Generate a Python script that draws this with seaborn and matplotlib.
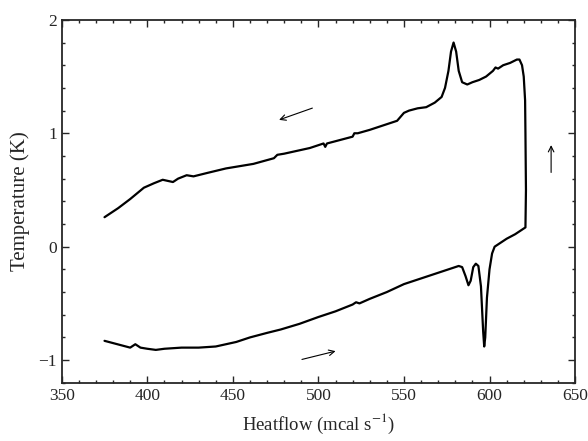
import numpy as np
import pandas as pd
import matplotlib
matplotlib.use("Agg")
import matplotlib.pyplot as plt
import seaborn as sns
from matplotlib.ticker import MultipleLocator

# heating branch (left to right)
lower_heatflow = [375, 380, 385, 390, 393, 396, 400, 405, 410, 420, 430, 440, 446, 452,
                  460, 470, 478, 489, 500, 510, 520, 522, 524, 530, 540, 550, 560, 570,
                  578, 582, 584, 586, 587.7, 589, 590.5, 592, 593.5, 595, 596.3, 596.9,
                  597.5, 598.5, 600, 601.5, 603, 605, 610, 615, 621]
lower_temp = [-0.83, -0.85, -0.87, -0.89, -0.86, -0.89, -0.90, -0.91, -0.90, -0.89, -0.89,
              -0.88, -0.86, -0.84, -0.80, -0.76, -0.73, -0.68, -0.62, -0.57, -0.51, -0.49,
              -0.50, -0.46, -0.40, -0.33, -0.28, -0.23, -0.19, -0.17, -0.18, -0.26, -0.34,
              -0.30, -0.18, -0.15, -0.17, -0.35, -0.75, -0.88, -0.80, -0.45, -0.20, -0.06,
              0.00, 0.02, 0.07, 0.11, 0.17]

# jump and cooling branch (right to left)
upper_heatflow = [621.3, 621, 620.8, 620, 619, 617.5, 616, 612, 608, 605, 603.5, 602, 598,
                  594, 590, 587, 584, 582, 580.5, 579, 577.5, 576, 574, 572, 568, 563, 558,
                  553, 550, 546, 540, 530, 523, 521, 520, 510, 505, 504, 503, 495, 489, 480,
                  476, 474, 462, 446, 435, 427, 423, 418, 415, 412, 409, 404, 398, 390, 383,
                  375]
upper_temp = [0.50, 1.00, 1.29, 1.50, 1.60, 1.65, 1.65, 1.62, 1.60, 1.57, 1.58, 1.55, 1.50,
              1.47, 1.45, 1.43, 1.45, 1.55, 1.72, 1.80, 1.72, 1.55, 1.40, 1.32, 1.27, 1.23,
              1.22, 1.20, 1.18, 1.11, 1.08, 1.03, 1.00, 1.00, 0.97, 0.93, 0.91, 0.88, 0.91,
              0.87, 0.85, 0.82, 0.81, 0.78, 0.73, 0.69, 0.65, 0.62, 0.63, 0.60, 0.57, 0.58,
              0.59, 0.56, 0.52, 0.42, 0.34, 0.26]

df = pd.DataFrame({
    "Heatflow": lower_heatflow + upper_heatflow,
    "Temperature": lower_temp + upper_temp,
})

sns.set_style("ticks")
plt.rcParams["font.family"] = ["Liberation Serif", "DejaVu Serif"]
plt.rcParams["mathtext.fontset"] = "stix"

fig = plt.figure(figsize=(5.88, 4.41), dpi=100)
ax = fig.add_axes([0.105, 0.132, 0.873, 0.823])

sns.lineplot(data=df, x="Heatflow", y="Temperature", sort=False, estimator=None,
             color="black", linewidth=1.6, ax=ax)

# direction arrows
arrow = dict(arrowstyle="->", color="black", lw=0.8)
ax.annotate("", xy=(475.5, 1.11), xytext=(498, 1.23), arrowprops=arrow)
ax.annotate("", xy=(511.6, -0.915), xytext=(488.8, -1.0), arrowprops=arrow)
ax.annotate("", xy=(636, 0.92), xytext=(636, 0.63), arrowprops=arrow)

ax.set_xlim(350, 650)
ax.set_ylim(-1.2, 2)
ax.xaxis.set_major_locator(MultipleLocator(50))
ax.xaxis.set_minor_locator(MultipleLocator(10))
ax.yaxis.set_major_locator(MultipleLocator(1))
ax.yaxis.set_minor_locator(MultipleLocator(0.2))
ax.tick_params(which="both", direction="in", top=True, right=True, labelsize=12.5, width=1)
ax.tick_params(which="major", length=5)
ax.tick_params(which="minor", length=2.5)
for sp in ax.spines.values():
    sp.set_linewidth(1.3)

ax.set_xlabel(r"Heatflow (mcal s$^{-1}$)", fontsize=13.5, labelpad=6)
ax.set_ylabel("Temperature (K)", fontsize=15, labelpad=6)

fig.savefig("out.png", dpi=100)
